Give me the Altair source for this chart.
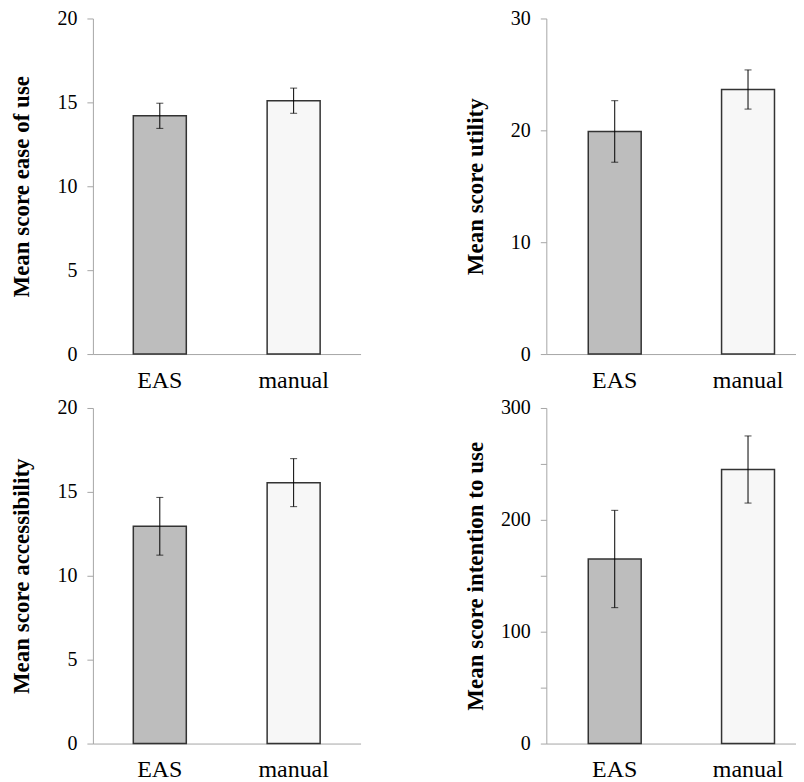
import altair as alt
import pandas as pd

groups = ["EAS", "manual"]

ease_mean = [14.2, 15.1]
ease_err = [0.75, 0.75]

utility_mean = [19.9, 23.65]
utility_err = [2.75, 1.75]

access_mean = [12.95, 15.55]
access_err = [1.72, 1.43]

intent_mean = [165, 245]
intent_err = [43.5, 30]

fill_colors = ["#bdbdbd", "#f7f7f7"]
FONT = "Liberation Serif"
AXIS_GREY = "#a6a6a6"
PH = 336


def panel(mean, err, title, ymax, tick_vals, label_step, width, pi, po, align):
    df = pd.DataFrame({
        "group": groups,
        "mean": mean,
        "lo": [m - e for m, e in zip(mean, err)],
        "hi": [m + e for m, e in zip(mean, err)],
    })
    xscale = alt.Scale(paddingInner=pi, paddingOuter=po, align=align)
    x = alt.X("group:N", sort=groups, title=None, scale=xscale,
              axis=alt.Axis(labelAngle=0, ticks=False, labelFontSize=24,
                            labelFont=FONT, labelPadding=14,
                            domainColor=AXIS_GREY, labelColor="black"))
    yaxis = alt.Axis(values=tick_vals,
                     labelExpr=f"datum.value % {label_step} == 0 ? datum.label : ''",
                     title=title, titleX=-71, titleY=PH / 2, titleAngle=-90,
                     titleAlign="center", titleBaseline="middle",
                     titleFont=FONT, labelFont=FONT,
                     titleFontSize=23, titleFontWeight="bold",
                     labelFontSize=20, labelPadding=10, tickSize=6,
                     domainColor=AXIS_GREY, tickColor=AXIS_GREY,
                     labelColor="black", titleColor="black", grid=False)
    yscale = alt.Scale(domain=[0, ymax], nice=False, zero=True)
    base = alt.Chart(df)
    bars = base.mark_bar(stroke="#333333", strokeWidth=1.5).encode(
        x=x,
        y=alt.Y("mean:Q", scale=yscale, axis=yaxis),
        fill=alt.Fill("group:N", sort=groups,
                      scale=alt.Scale(domain=groups, range=fill_colors),
                      legend=None),
    )
    rule = base.mark_rule(color="black", strokeWidth=1).encode(
        x=alt.X("group:N", sort=groups),
        y=alt.Y("lo:Q", title=title),
        y2="hi:Q",
    )
    cap_lo = base.mark_tick(color="black", size=7, thickness=1).encode(
        x=alt.X("group:N", sort=groups),
        y=alt.Y("lo:Q", title=title),
    )
    cap_hi = base.mark_tick(color="black", size=7, thickness=1).encode(
        x=alt.X("group:N", sort=groups),
        y=alt.Y("hi:Q", title=title),
    )
    return alt.layer(bars, rule, cap_lo, cap_hi).properties(width=width, height=PH)


LW, RW = 268, 250
p1 = panel(ease_mean, ease_err, "Mean score ease of use", 20, [0, 5, 10, 15, 20], 5,
           LW, 0.604, 0.302, 0.5)
p2 = panel(utility_mean, utility_err, "Mean score utility", 30, [0, 10, 20, 30], 10,
           RW, 0.603, 0.238, 0.661)
p3 = panel(access_mean, access_err, "Mean score accessibility", 20, [0, 5, 10, 15, 20], 5,
           LW, 0.604, 0.302, 0.5)
p4 = panel(intent_mean, intent_err, "Mean score intention to use", 300,
           [0, 50, 100, 150, 200, 250, 300], 100, RW, 0.603, 0.238, 0.661)

chart = alt.vconcat(
    alt.hconcat(p1, p2, spacing=104),
    alt.hconcat(p3, p4, spacing=104),
    spacing=6,
).properties(
    padding={"left": 3, "top": 0, "right": 0, "bottom": 0},
    background="white",
).configure_axis(
    labelFont=FONT, titleFont=FONT,
).configure_view(stroke=None)

chart.save("out.html", embed_options={"renderer": "svg", "actions": False})
